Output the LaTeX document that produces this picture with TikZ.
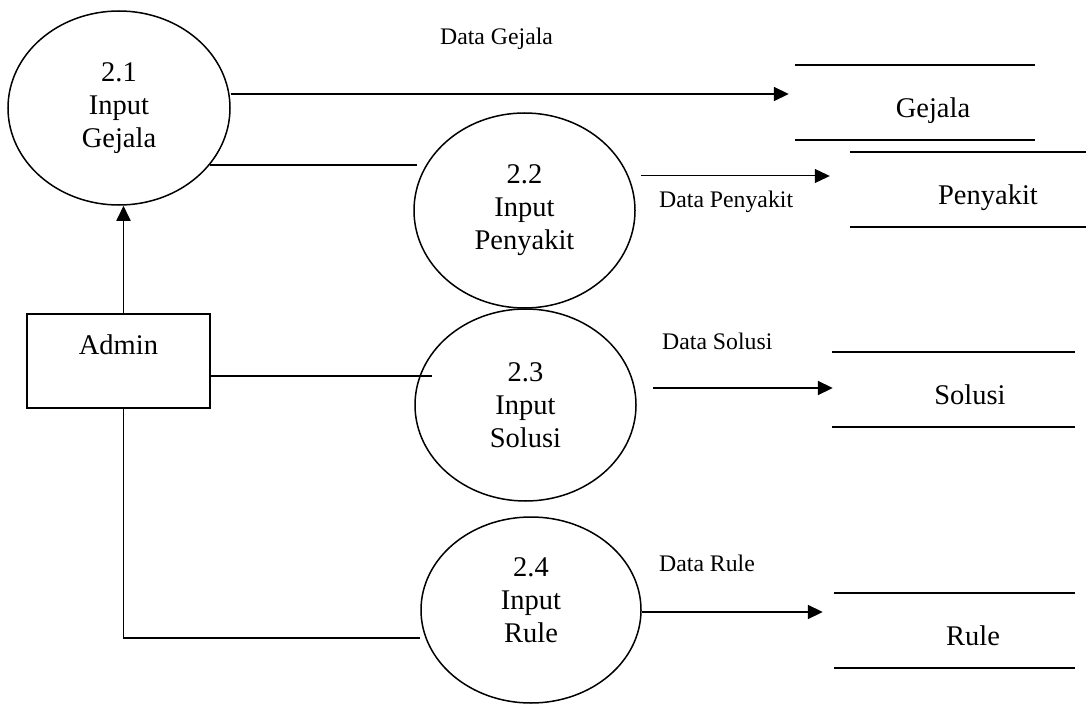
\documentclass[tikz,border=0pt]{standalone}
\usepackage{fontspec}
\setmainfont{Liberation Serif}
\usetikzlibrary{arrows.meta,calc,shapes.geometric}

\begin{document}
\begin{tikzpicture}[x=1bp,y=-1bp,
  maintext/.style={font=\fontsize{28.5bp}{33bp}\selectfont},
  process/.style={ellipse, draw, line width=1.5bp, inner sep=0pt, align=center, maintext},
  entity/.style={rectangle, draw, line width=1.8bp, inner sep=0pt, align=center, maintext},
  store/.style={inner sep=0pt, minimum height=75bp, text height=40bp, text depth=10bp, maintext,
    append after command={(\tikzlastnode.north west) edge[line width=2.2bp] (\tikzlastnode.north east)
                          (\tikzlastnode.south west) edge[line width=2.2bp] (\tikzlastnode.south east)}},
  link/.style={line width=1.8bp},
  flow/.style={link, -{Triangle[length=15bp,width=14bp]}},
  thinflow/.style={flow, line width=1bp},
  flowlabel/.style={font=\fontsize{23.75bp}{27bp}\selectfont, anchor=base west, inner sep=0pt}]

  % page area
  \fill[white] (0,0) rectangle (1086,705);
  \useasboundingbox (0,0) rectangle (1086,705);

  % processes
  \node[process, minimum width=222bp, minimum height=194bp] (p21) at (119,108)   {2.1\\Input\\Gejala};
  \node[process, minimum width=221bp, minimum height=195bp] (p22) at (524.5,210.5) {2.2\\Input\\Penyakit};
  \node[process, minimum width=221bp, minimum height=192bp] (p23) at (525.5,405) {2.3\\Input\\Solusi};
  \node[process, minimum width=220bp, minimum height=186bp] (p24) at (531,610)   {2.4\\Input\\Rule\\[-13bp]\mbox{}};

  % external entity
  \node[entity, minimum width=183bp, minimum height=94bp] (admin) at (118.5,361) {Admin\\\mbox{}};

  % data stores
  \node[store, minimum width=240bp] (gejala)   at (915,102.5) {\hspace*{36bp}Gejala};
  \node[store, minimum width=236bp] (penyakit) at (968,189.5) {\hspace*{40bp}Penyakit};
  \node[store, minimum width=243bp] (solusi)   at (953.5,389.5) {\hspace*{33bp}Solusi};
  \node[store, minimum width=241bp] (rule)     at (954.5,630.5) {\hspace*{37bp}Rule};

  % admin to processes
  \draw[flow] ($(admin.north)+(5,0)$) -- ($(admin.north |- p21.south)+(5,0)$);
  \coordinate (c1) at ($(p22.west)+(4,-45.5)$);
  \draw[link] (p21.-32.4) -- (p21.-32.4 -| c1);
  \coordinate (c3) at ($(admin.east)+(0,15)$);
  \draw[link] (c3) -- ($(c3 -| p23.west)+(18,0)$);
  \draw[link] ($(admin.south)+(5,0)$) |- ($(p24.west)+(0,28)$);

  % processes to data stores
  \coordinate (g0) at ($(p21.east)+(0,-14)$);
  \draw[flow] (g0) -- ($(g0 -| gejala.west)+(-6,0)$);
  \coordinate (g1) at ($(p22.east)+(5,-34.5)$);
  \draw[thinflow] (g1) -- ($(g1 -| penyakit.west)+(-20,0)$);
  \coordinate (g2) at ($(p23.east)+(16,-17)$);
  \draw[flow] (g2) -- ($(g2 -| solusi.west)+(1,0)$);
  \coordinate (g3) at ($(p24.east)+(0,2)$);
  \draw[flow] (g3) -- ($(g3 -| rule.west)+(-11,0)$);

  % flow labels
  \node[flowlabel] (lg) at (440,45)  {Data Gejala};
  \node[flowlabel] (lp) at (659,208) {Data Penyakit};
  \node[flowlabel] (ls) at (662,349) {Data Solusi};
  \node[flowlabel] (lr) at (659,571) {Data Rule};
\end{tikzpicture}
\end{document}
